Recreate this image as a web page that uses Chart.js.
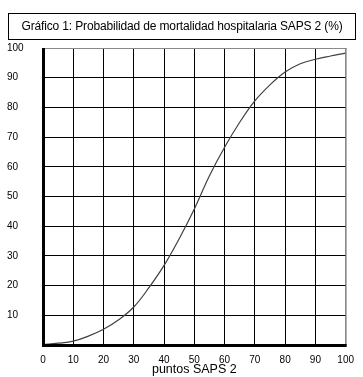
<!DOCTYPE html>
<html>
<head>
<meta charset="utf-8">
<script src="https://cdn.jsdelivr.net/npm/chart.js@4/dist/chart.umd.min.js"></script>
<style>
  html, body { margin: 0; padding: 0; background: #fff; }
  #wrap { position: relative; width: 363px; height: 377px; }
  #title {
    position: absolute; left: 8px; top: 13px; width: 346px; height: 25px;
    border: 1px solid #000; font-family: "Liberation Sans", Arial, sans-serif;
    font-size: 12px; letter-spacing: -0.15px; line-height: 25px; text-align: center; color: #000; box-sizing: content-box;
  }
  canvas { position: absolute; left: 0; top: 0; }
</style>
</head>
<body>
<div id="wrap">
  <canvas id="c" width="363" height="377"></canvas>
  <div id="title">Gráfico 1: Probabilidad de mortalidad hospitalaria SAPS 2 (%)</div>
</div>
<script>
// Data
const saps2Points = [0, 5, 10, 15, 20, 25, 30, 35, 40, 45, 50, 55, 60, 65, 70, 75, 80, 85, 90, 95, 100];
const mortalityPct = [0.2, 0.6, 1.3, 3.0, 5.3, 8.5, 12.8, 19.3, 26.8, 35.8, 45.8, 57.0, 66.6, 75.0, 82.2, 87.6, 91.9, 94.7, 96.2, 97.3, 98.3];
const xTickLabels = ['0', '10', '20', '30', '40', '50', '60', '70', '80', '90', '100'];
const yTickLabels = ['', '10', '20', '30', '40', '50', '60', '70', '80', '90', '100'];
const axisTitle = 'puntos SAPS 2';

const points = saps2Points.map((x, i) => ({ x: x, y: mortalityPct[i] }));
const FONT = '"Liberation Sans", Arial, sans-serif';

const framePlugin = {
  id: 'frame',
  afterDatasetsDraw(chart) {
    const { ctx, chartArea: a } = chart;
    ctx.save();
    ctx.fillStyle = '#8a8a8a';
    ctx.fillRect(a.left, a.top, a.right - a.left + 1, 1);
    ctx.fillRect(a.right, a.top, 1, a.bottom - a.top);
    ctx.fillStyle = '#000';
    ctx.fillRect(a.left - 1, a.top, 3, a.bottom - a.top + 1);
    ctx.fillRect(a.left - 1, a.bottom - 1, a.right - a.left + 2, 3);
    ctx.restore();
  }
};

new Chart(document.getElementById('c'), {
  type: 'line',
  data: {
    datasets: [{
      data: points,
      borderColor: '#404040',
      borderWidth: 1.2,
      pointRadius: 0,
      fill: false,
      tension: 0.4
    }]
  },
  options: {
    responsive: false,
    animation: false,
    layout: { padding: { left: 7, top: 48, right: 14, bottom: 0 } },
    plugins: { legend: { display: false }, tooltip: { enabled: false }, title: { display: false } },
    scales: {
      x: {
        type: 'linear', min: 0, max: 100,
        afterFit(s) { s.height = 32; },
        border: { display: false },
        grid: {
          drawTicks: false, lineWidth: 1,
          color: c => (c.tick && c.tick.value === 100) ? '#8a8a8a' : '#000'
        },
        ticks: {
          stepSize: 10, padding: 9, maxRotation: 0, autoSkip: false,
          color: '#000', font: { family: FONT, size: 10 },
          callback: (v) => xTickLabels[Math.round(v / 10)]
        },
        title: {
          display: true, text: axisTitle, color: '#000',
          font: { family: FONT, size: 12.5 }, padding: { top: 0, bottom: 0 }
        }
      },
      y: {
        min: 0, max: 100,
        afterFit(s) { s.width = 36; },
        border: { display: false },
        grid: {
          drawTicks: false, lineWidth: 1,
          color: c => (c.tick && c.tick.value === 100) ? '#8a8a8a' : '#000'
        },
        ticks: {
          stepSize: 10, crossAlign: 'far', padding: 0, autoSkip: false,
          color: '#000', font: { family: FONT, size: 10 },
          callback: (v) => yTickLabels[Math.round(v / 10)]
        }
      }
    }
  },
  plugins: [framePlugin]
});
</script>
</body>
</html>
